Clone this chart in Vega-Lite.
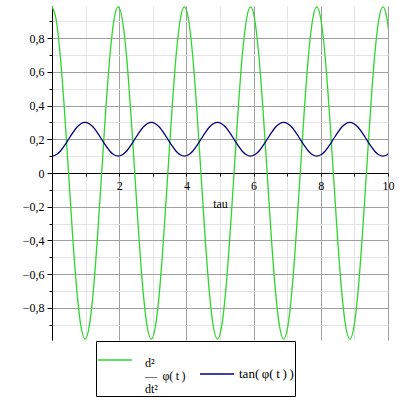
{
"$schema": "https://vega.github.io/schema/vega-lite/v6.json",
"width": 336, "height": 334,
"autosize": {"type": "none"},
"padding": {"left": 52, "top": 6, "right": 12, "bottom": 60},
"config": {"view": {"stroke": null}, "font": "Liberation Serif"},
"data": {"values": [
{"t":0,"a":0.985,"b":0.1},{"t":0.123,"a":0.91,"b":0.108},{"t":0.246,"a":0.697,"b":0.129},{"t":0.369,"a":0.377,"b":0.162},
{"t":0.493,"a":0,"b":0.2},{"t":0.616,"a":-0.377,"b":0.238},{"t":0.739,"a":-0.697,"b":0.271},{"t":0.862,"a":-0.91,"b":0.292},
{"t":0.985,"a":-0.985,"b":0.3},{"t":1.108,"a":-0.91,"b":0.292},{"t":1.231,"a":-0.697,"b":0.271},{"t":1.354,"a":-0.377,"b":0.238},
{"t":1.478,"a":0,"b":0.2},{"t":1.601,"a":0.377,"b":0.162},{"t":1.724,"a":0.697,"b":0.129},{"t":1.847,"a":0.91,"b":0.108},
{"t":1.97,"a":0.985,"b":0.1},{"t":2.093,"a":0.91,"b":0.108},{"t":2.216,"a":0.697,"b":0.129},{"t":2.339,"a":0.377,"b":0.162},
{"t":2.463,"a":0,"b":0.2},{"t":2.586,"a":-0.377,"b":0.238},{"t":2.709,"a":-0.697,"b":0.271},{"t":2.832,"a":-0.91,"b":0.292},
{"t":2.955,"a":-0.985,"b":0.3},{"t":3.078,"a":-0.91,"b":0.292},{"t":3.201,"a":-0.697,"b":0.271},{"t":3.324,"a":-0.377,"b":0.238},
{"t":3.448,"a":0,"b":0.2},{"t":3.571,"a":0.377,"b":0.162},{"t":3.694,"a":0.697,"b":0.129},{"t":3.817,"a":0.91,"b":0.108},
{"t":3.94,"a":0.985,"b":0.1},{"t":4.063,"a":0.91,"b":0.108},{"t":4.186,"a":0.697,"b":0.129},{"t":4.309,"a":0.377,"b":0.162},
{"t":4.433,"a":0,"b":0.2},{"t":4.556,"a":-0.377,"b":0.238},{"t":4.679,"a":-0.697,"b":0.271},{"t":4.802,"a":-0.91,"b":0.292},
{"t":4.925,"a":-0.985,"b":0.3},{"t":5.048,"a":-0.91,"b":0.292},{"t":5.171,"a":-0.697,"b":0.271},{"t":5.294,"a":-0.377,"b":0.238},
{"t":5.418,"a":0,"b":0.2},{"t":5.541,"a":0.377,"b":0.162},{"t":5.664,"a":0.697,"b":0.129},{"t":5.787,"a":0.91,"b":0.108},
{"t":5.91,"a":0.985,"b":0.1},{"t":6.033,"a":0.91,"b":0.108},{"t":6.156,"a":0.697,"b":0.129},{"t":6.279,"a":0.377,"b":0.162},
{"t":6.403,"a":0,"b":0.2},{"t":6.526,"a":-0.377,"b":0.238},{"t":6.649,"a":-0.697,"b":0.271},{"t":6.772,"a":-0.91,"b":0.292},
{"t":6.895,"a":-0.985,"b":0.3},{"t":7.018,"a":-0.91,"b":0.292},{"t":7.141,"a":-0.697,"b":0.271},{"t":7.264,"a":-0.377,"b":0.238},
{"t":7.388,"a":0,"b":0.2},{"t":7.511,"a":0.377,"b":0.162},{"t":7.634,"a":0.697,"b":0.129},{"t":7.757,"a":0.91,"b":0.108},
{"t":7.88,"a":0.985,"b":0.1},{"t":8.003,"a":0.91,"b":0.108},{"t":8.126,"a":0.697,"b":0.129},{"t":8.249,"a":0.377,"b":0.162},
{"t":8.373,"a":0,"b":0.2},{"t":8.496,"a":-0.377,"b":0.238},{"t":8.619,"a":-0.697,"b":0.271},{"t":8.742,"a":-0.91,"b":0.292},
{"t":8.865,"a":-0.985,"b":0.3},{"t":8.988,"a":-0.91,"b":0.292},{"t":9.111,"a":-0.697,"b":0.271},{"t":9.234,"a":-0.377,"b":0.238},
{"t":9.358,"a":0,"b":0.2},{"t":9.481,"a":0.377,"b":0.162},{"t":9.604,"a":0.697,"b":0.129},{"t":9.727,"a":0.91,"b":0.108},
{"t":9.85,"a":0.985,"b":0.1},{"t":9.973,"a":0.91,"b":0.108},{"t":10.096,"a":0.697,"b":0.129}
]},
"transform": [{"fold": ["a", "b"], "as": ["key", "value"]}],
"mark": {"type": "line", "interpolate": "monotone", "clip": true, "strokeWidth": 1.3},
"encoding": {
  "x": {"field": "t", "type": "quantitative",
        "scale": {"domain": [0, 10], "nice": false, "zero": false},
        "axis": {"title": "tau", "values": [0,1,2,3,4,5,6,7,8,9,10], "offset": -167,
                 "grid": true,
                 "gridColor": {"condition": {"test": "datum.value % 2 === 0", "value": "#a0a0a0"}, "value": "#e3e3e3"},
                 "gridOpacity": 1,
                 "labelExpr": "datum.value % 2 === 0 && datum.value > 0 ? datum.label : ''",
                 "labelFont": "Liberation Serif", "labelFontSize": 12, "labelColor": "black", "labelPadding": 4,
                 "labelFlush": false, "labelOverlap": false,
                 "tickSize": 3, "tickColor": "black", "domainColor": "black",
                 "titleFont": "Liberation Serif", "titleFontSize": 12, "titleFontWeight": "normal", "titleColor": "black", "titlePadding": 7}},
  "y": {"field": "value", "type": "quantitative",
        "scale": {"domain": [-0.99, 0.99], "nice": false, "zero": false},
        "axis": {"title": null,
                 "values": [-0.9,-0.8,-0.7,-0.6,-0.5,-0.4,-0.3,-0.2,-0.1,0,0.1,0.2,0.3,0.4,0.5,0.6,0.7,0.8,0.9],
                 "grid": true,
                 "gridColor": {"condition": {"test": "abs(round(datum.value*10)) % 2 === 0", "value": "#a0a0a0"}, "value": "#e3e3e3"},
                 "gridOpacity": 1,
                 "tickSize": {"condition": {"test": "abs(round(datum.value*10)) % 2 === 0", "value": 5}, "value": 3},
                 "labelExpr": "abs(round(datum.value*10)) % 2 === 1 ? '' : (datum.value === 0 ? '0' : replace(format(datum.value, '.1f'), '.', ','))",
                 "labelFont": "Liberation Serif", "labelFontSize": 12, "labelColor": "black", "labelPadding": 3,
                 "labelFlush": false, "labelOverlap": false,
                 "tickColor": "black", "domainColor": "black"}},
  "color": {"field": "key", "type": "nominal",
            "scale": {"domain": ["a", "b"], "range": ["#2ed62e", "#000080"]},
            "legend": {"orient": "none", "legendX": 44, "legendY": 335, "direction": "horizontal", "title": null,
                       "symbolType": "stroke", "symbolSize": 1156, "symbolStrokeWidth": 1.3,
                       "labelFont": "Liberation Serif", "labelFontSize": 13, "labelColor": "black",
                       "labelOffset": 4, "columnPadding": 11, "padding": 1, "labelLimit": 0,
                       "strokeColor": "black", "fillColor": "white",
                       "labelExpr": "datum.value === 'a' ? ['\u2009d²', '\u2009—\u2009\u00a0φ(\u2009t\u2009)\u2009', 'dt²'] : 'tan(\u2009φ(\u2009t\u2009)\u2009)'",
                       "encoding": {"labels": {"lineHeight": {"value": 13},
                                               "fontSize": {"condition": {"test": "datum.value === 'a'", "value": 12}, "value": 13},
                                               "dy": {"condition": {"test": "datum.value === 'a'", "value": 3}, "value": 0},
                                               "dx": {"condition": {"test": "datum.value === 'a'", "value": 8}, "value": 0}}}}}
}
}
